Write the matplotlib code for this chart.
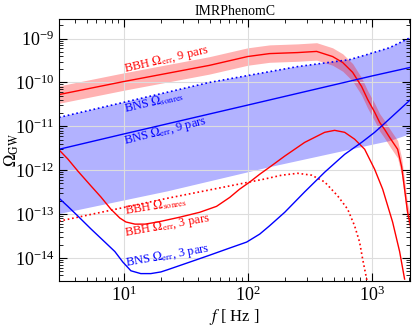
''' Omega_GW errors, IMRPhenomC '''

import numpy as np
import matplotlib.pyplot as plt
from matplotlib.ticker import NullFormatter

plt.rcParams['font.family'] = ['Liberation Serif', 'DejaVu Serif']
plt.rcParams['mathtext.fontset'] = 'stix'

#BBH, 9 parameter error (line + band)
f_bbh9 = [3, 10, 49, 100, 150, 253, 360, 484, 584, 703, 830, 929, 1058, 1161, 1274, 1397,
          1622, 1747, 1846, 1951, 2065]
om_bbh9 = [5.3e-11, 1.05e-10, 2.45e-10, 3.9e-10, 4.55e-10, 4.8e-10, 5.1e-10, 3.9e-10, 2.85e-10,
           1.7e-10, 8.1e-11, 4.1e-11, 2.1e-11, 1.23e-11, 8.5e-12, 5.6e-12, 3.0e-12, 1.2e-12,
           3.7e-13, 1.1e-13, 5.4e-14]
band_fac = 1.58

#BNS sonres band (upper / lower edge)
f_bns_up = [3, 49, 253, 660, 912, 1397, 2048]
om_bns_up = [1.6e-11, 1.0e-10, 2.3e-10, 3.3e-10, 4.3e-10, 6.2e-10, 1.05e-9]
f_bns_lo = [3, 22.6, 150, 1058, 1397, 2048]
om_bns_lo = [1.0e-13, 3.3e-13, 1.17e-12, 3.9e-12, 4.6e-12, 6.6e-12]

#BNS, 9 parameter error
f_bns9 = [3, 10, 100, 1000, 2048]
om_bns9 = [3.0e-12, 6.7e-12, 3.05e-11, 1.4e-10, 2.2e-10]

#BBH, 3 parameter error
f_bbh3 = [3, 3.53, 4.26, 5.42, 6.53, 7.85, 9.29, 10.4, 12.3, 14.8, 18.8, 28.3, 41, 56, 71.6, 86,
          104, 125, 150, 199, 288, 418, 503, 606, 729, 879, 1058, 1228, 1477, 1683, 1846]
om_bbh3 = [2.9e-12, 1.8e-12, 9.5e-13, 4.4e-13, 2.45e-13, 1.3e-13, 8.1e-14, 6.6e-14, 5.9e-14,
           5.9e-14, 6.6e-14, 8.5e-14, 1.1e-13, 1.5e-13, 2.4e-13, 3.7e-13, 5.4e-13, 8.1e-13,
           1.17e-12, 2.1e-12, 4.3e-12, 7.3e-12, 8.1e-12, 7.3e-12, 5.1e-12, 3.0e-12, 1.05e-12,
           3.7e-13, 6.6e-14, 1.4e-14, 3.3e-15]

#BBH sonres
f_bbh_s = [3, 22.6, 137, 188, 253, 328, 418, 532, 640, 729, 800, 846, 912, 950]
om_bbh_s = [6.9e-14, 2.3e-13, 6.3e-13, 7.7e-13, 8.5e-13, 7.7e-13, 5.4e-13, 2.6e-13, 1.3e-13,
            5.4e-14, 2.3e-14, 9.5e-15, 3.3e-15, 1e-15]

#BNS, 3 parameter error
f_bns3 = [3, 3.53, 4.26, 5.42, 7.03, 8.46, 9.8, 11.4, 13.7, 16.5, 19.9, 22.6, 36, 49, 68, 98, 125,
          150, 199, 288, 418, 606, 830, 1058, 1274, 2048]
om_bns3 = [2.3e-13, 1.5e-13, 9.0e-14, 4.6e-14, 2.3e-14, 1.4e-14, 8.1e-15, 5.1e-15, 4.4e-15,
           4.4e-15, 4.8e-15, 5.4e-15, 8.5e-15, 1.15e-14, 1.6e-14, 2.3e-14, 3.5e-14, 5.4e-14,
           1.1e-13, 3.2e-13, 9.0e-13, 2.3e-12, 4.3e-12, 7.3e-12, 1.17e-11, 4.0e-11]

fig = plt.figure(figsize=(4.16, 3.27), dpi=100)
ax = fig.add_axes([0.142, 0.141, 0.844, 0.801])

#bands
ax.fill(np.concatenate([f_bns_up, f_bns_lo[::-1]]), np.concatenate([om_bns_up, om_bns_lo[::-1]]),
        color='blue', alpha=0.3, lw=0)
ax.fill_between(f_bbh9, np.array(om_bbh9) / band_fac, np.array(om_bbh9) * band_fac,
                color='red', alpha=0.3, lw=0)

#lines
ax.plot(f_bbh9, om_bbh9, color='red', lw=1.0)
ax.plot(f_bns_up, om_bns_up, color='blue', lw=1.2, ls=':')
ax.plot(f_bns9, om_bns9, color='blue', lw=1.0)
ax.plot(f_bbh3, om_bbh3, color='red', lw=1.0)
ax.plot(f_bbh_s, om_bbh_s, color='red', lw=1.2, ls=':')
ax.plot(f_bns3, om_bns3, color='blue', lw=1.0)

#labels on curves
ax.text(10.2, 1.75e-10, r'BBH $\Omega_{\rm err}$, 9 pars', color='red', fontsize=9, rotation=13,
        rotation_mode='anchor')
ax.text(10.2, 2.1e-11, r'BNS $\Omega_{\rm sonres}$', color='blue', fontsize=9, rotation=13,
        rotation_mode='anchor')
ax.text(10.2, 3.9e-12, r'BNS $\Omega_{\rm err}$, 9 pars', color='blue', fontsize=9, rotation=14,
        rotation_mode='anchor')
ax.text(10.2, 1.0e-13, r'BBH $\Omega_{\rm sonres}$', color='red', fontsize=9, rotation=9,
        rotation_mode='anchor')
ax.text(10.2, 3.2e-14, r'BBH $\Omega_{\rm err}$, 3 pars', color='red', fontsize=9, rotation=10,
        rotation_mode='anchor')
ax.text(10.5, 6.6e-15, r'BNS $\Omega_{\rm err}$, 3 pars', color='blue', fontsize=9, rotation=10,
        rotation_mode='anchor')

ax.set_xscale('log')
ax.set_yscale('log')
ax.set_xlim(3, 2048)
ax.set_ylim(3e-15, 2.8e-9)
ax.xaxis.set_minor_formatter(NullFormatter())
ax.yaxis.set_minor_formatter(NullFormatter())
ax.grid(True, which='major', color='#dddddd', lw=0.8)
ax.tick_params(which='both', direction='in', top=True, right=True, labelsize=13)
ax.tick_params(which='major', length=6)
ax.tick_params(which='minor', length=3)

#Naming
ax.set_xlabel(r'$f$ [ Hz ]', fontsize=12, labelpad=1)
ax.set_ylabel(r'$\Omega_{\rm GW}$', fontsize=12)
ax.yaxis.set_label_coords(-0.108, 0.5)
ax.set_title('IMRPhenomC', fontsize=10, pad=3)
fig.savefig('out.png')
